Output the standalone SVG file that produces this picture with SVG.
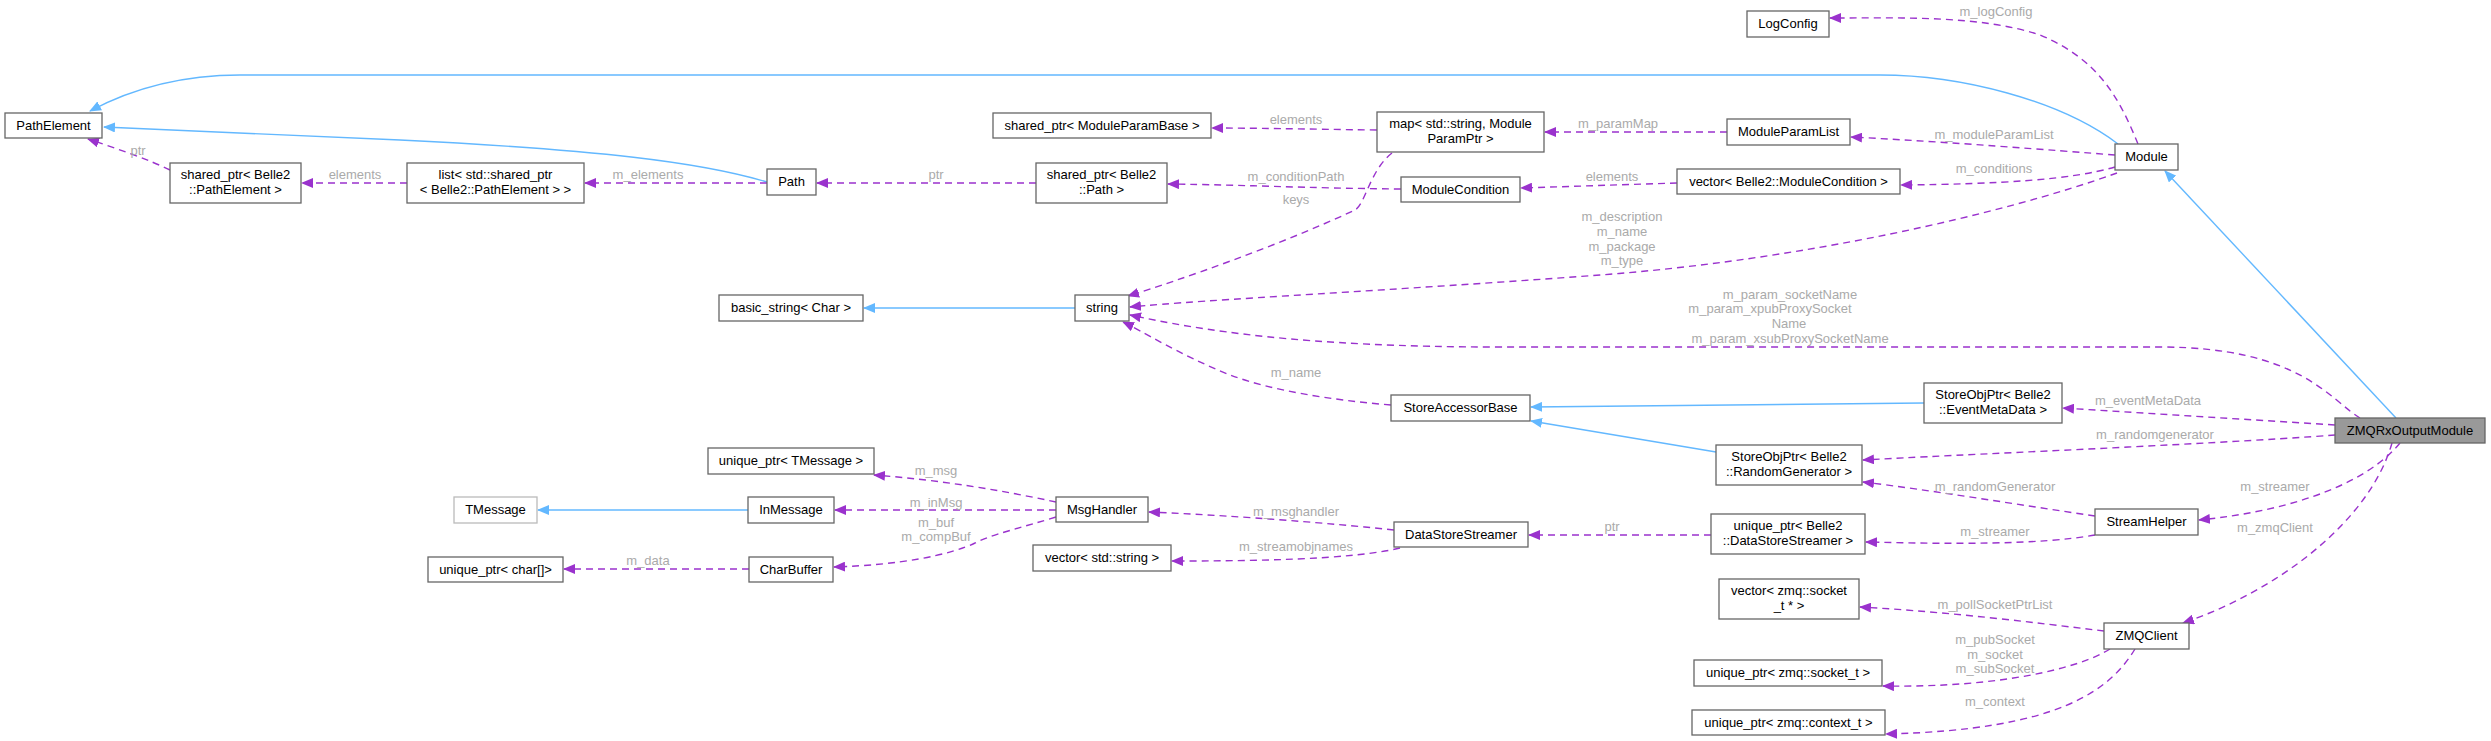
<svg xmlns="http://www.w3.org/2000/svg" width="2491" height="741" viewBox="0 0 2491 741">
<style>
.n rect{fill:#fff;stroke:#666;stroke-width:1.3}
.n text,.l{font-family:"Liberation Sans",Arial,sans-serif;font-size:13px;text-anchor:middle}
.n text{fill:#000}
.l{fill:#aaa}
.d{fill:none;stroke:#9a32cd;stroke-width:1.4;stroke-dasharray:7,5}
.b{fill:none;stroke:#63b8ff;stroke-width:1.4}
</style>
<defs>
<marker id="mp" markerWidth="12" markerHeight="10" refX="11" refY="5" orient="auto" markerUnits="userSpaceOnUse"><path d="M0,0L12,5L0,10z" fill="#9a32cd"/></marker>
<marker id="mb" markerWidth="12" markerHeight="10" refX="11" refY="5" orient="auto" markerUnits="userSpaceOnUse"><path d="M0,0L12,5L0,10z" fill="#63b8ff"/></marker>
</defs>
<g id="edges">
<path class="b" marker-end="url(#mb)" d="M2118,144 C2060,100 1960,75 1880,75 L240,75 C170,75 120,95 90,111"/>
<path class="b" marker-end="url(#mb)" d="M767,182 C700,162 600,150 400,140 L104,127"/>
<path class="d" marker-end="url(#mp)" d="M170,170 C150,160 115,148 88,139"/>
<text class="l" x="138" y="155">ptr</text>
<path class="d" marker-end="url(#mp)" d="M407,183 L302,183"/>
<text class="l" x="355" y="179">elements</text>
<path class="d" marker-end="url(#mp)" d="M767,183 L585,183"/>
<text class="l" x="648" y="179">m_elements</text>
<path class="d" marker-end="url(#mp)" d="M1036,183 L817,183"/>
<text class="l" x="936" y="179">ptr</text>
<path class="d" marker-end="url(#mp)" d="M1401,189 C1300,188 1250,185 1168,184"/>
<text class="l" x="1296" y="181">m_conditionPath</text>
<path class="d" marker-end="url(#mp)" d="M1377,130 C1300,129 1250,128 1212,128"/>
<text class="l" x="1296" y="124">elements</text>
<path class="d" marker-end="url(#mp)" d="M1392,153 C1370,170 1365,205 1355,210 C1280,245 1180,280 1128,296"/>
<text class="l" x="1296" y="204">keys</text>
<path class="d" marker-end="url(#mp)" d="M1727,132 L1545,132"/>
<text class="l" x="1618" y="128">m_paramMap</text>
<path class="d" marker-end="url(#mp)" d="M1677,183 L1521,188"/>
<text class="l" x="1612" y="181">elements</text>
<path class="d" marker-end="url(#mp)" d="M2138,144 C2120,100 2100,60 2040,35 C1980,15 1900,18 1830,18"/>
<text class="l" x="1996" y="16">m_logConfig</text>
<path class="d" marker-end="url(#mp)" d="M2115,155 C2050,150 1950,142 1851,137"/>
<text class="l" x="1994" y="139">m_moduleParamList</text>
<path class="d" marker-end="url(#mp)" d="M2115,167 C2070,180 2000,184 1901,185"/>
<text class="l" x="1994" y="173">m_conditions</text>
<path class="d" marker-end="url(#mp)" d="M2117,173 C2000,215 1800,260 1600,275 C1400,290 1200,300 1130,307"/>
<text class="l" x="1622" y="221">m_description</text>
<text class="l" x="1622" y="236">m_name</text>
<text class="l" x="1622" y="251">m_package</text>
<text class="l" x="1622" y="265">m_type</text>
<path class="d" marker-end="url(#mp)" d="M2360,418 C2330,400 2300,347 2160,347 L1500,347 C1300,347 1200,330 1130,315"/>
<text class="l" x="1790" y="299">m_param_socketName</text>
<text class="l" x="1770" y="313">m_param_xpubProxySocket</text>
<text class="l" x="1789" y="328">Name</text>
<text class="l" x="1790" y="343">m_param_xsubProxySocketName</text>
<path class="b" marker-end="url(#mb)" d="M2396,418 L2165,171"/>
<path class="d" marker-end="url(#mp)" d="M2335,425 L2063,408"/>
<text class="l" x="2148" y="405">m_eventMetaData</text>
<path class="d" marker-end="url(#mp)" d="M2335,435 C2200,445 1950,455 1863,460"/>
<text class="l" x="2155" y="439">m_randomgenerator</text>
<path class="d" marker-end="url(#mp)" d="M2400,443 C2370,480 2300,510 2199,520"/>
<text class="l" x="2275" y="491">m_streamer</text>
<path class="d" marker-end="url(#mp)" d="M2392,443 C2370,520 2280,590 2183,623"/>
<text class="l" x="2275" y="532">m_zmqClient</text>
<path class="d" marker-end="url(#mp)" d="M2095,516 C2020,505 1930,490 1863,482"/>
<text class="l" x="1995" y="491">m_randomGenerator</text>
<path class="d" marker-end="url(#mp)" d="M2095,535 C2040,545 1950,544 1866,542"/>
<text class="l" x="1995" y="536">m_streamer</text>
<path class="b" marker-end="url(#mb)" d="M1924,403 L1531,407"/>
<path class="b" marker-end="url(#mb)" d="M1716,452 L1531,421"/>
<path class="d" marker-end="url(#mp)" d="M1391,405 C1330,400 1270,390 1230,375 C1180,355 1140,330 1123,322"/>
<text class="l" x="1296" y="377">m_name</text>
<path class="d" marker-end="url(#mp)" d="M1711,535 L1529,535"/>
<text class="l" x="1612" y="531">ptr</text>
<path class="d" marker-end="url(#mp)" d="M1394,530 C1300,520 1200,514 1149,512"/>
<text class="l" x="1296" y="516">m_msghandler</text>
<path class="d" marker-end="url(#mp)" d="M1400,548 C1350,560 1250,561 1172,561"/>
<text class="l" x="1296" y="551">m_streamobjnames</text>
<path class="d" marker-end="url(#mp)" d="M1056,502 C1000,490 940,480 874,475"/>
<text class="l" x="936" y="475">m_msg</text>
<path class="d" marker-end="url(#mp)" d="M1056,510 L835,510"/>
<text class="l" x="936" y="507">m_inMsg</text>
<path class="d" marker-end="url(#mp)" d="M1056,517 C1020,528 990,535 975,543 C950,555 900,565 834,567"/>
<text class="l" x="936" y="527">m_buf</text>
<text class="l" x="936" y="541">m_compBuf</text>
<path class="b" marker-end="url(#mb)" d="M748,510 L538,510"/>
<path class="d" marker-end="url(#mp)" d="M749,569 L564,569"/>
<text class="l" x="648" y="565">m_data</text>
<path class="b" marker-end="url(#mb)" d="M1075,308 L864,308"/>
<path class="d" marker-end="url(#mp)" d="M2104,631 C2030,622 1950,612 1860,607"/>
<text class="l" x="1995" y="609">m_pollSocketPtrList</text>
<path class="d" marker-end="url(#mp)" d="M2110,649 C2080,668 2000,688 1883,686"/>
<text class="l" x="1995" y="644">m_pubSocket</text>
<text class="l" x="1995" y="659">m_socket</text>
<text class="l" x="1995" y="673">m_subSocket</text>
<path class="d" marker-end="url(#mp)" d="M2135,649 C2110,690 2060,730 1886,734"/>
<text class="l" x="1995" y="706">m_context</text>
</g>
<g id="PathElement" class="n"><rect x="5" y="113" width="97" height="25"/><text x="53.5" y="130">PathElement</text></g>
<g id="SharedPtrPathElement" class="n"><rect x="170" y="163" width="131" height="40"/><text x="235.5" y="179">shared_ptr&lt; Belle2</text><text x="235.5" y="194">::PathElement &gt;</text></g>
<g id="ListSharedPtr" class="n"><rect x="407" y="163" width="177" height="40"/><text x="495.5" y="179">list&lt; std::shared_ptr</text><text x="495.5" y="194">&lt; Belle2::PathElement &gt; &gt;</text></g>
<g id="Path" class="n"><rect x="767" y="169" width="49" height="26"/><text x="791.5" y="186">Path</text></g>
<g id="BasicString" class="n"><rect x="719" y="295" width="144" height="26"/><text x="791" y="312">basic_string&lt; Char &gt;</text></g>
<g id="SharedPtrModuleParamBase" class="n"><rect x="993" y="113" width="218" height="25"/><text x="1102" y="130">shared_ptr&lt; ModuleParamBase &gt;</text></g>
<g id="Map" class="n"><rect x="1377" y="112" width="167" height="40"/><text x="1460.5" y="128">map&lt; std::string, Module</text><text x="1460.5" y="143">ParamPtr &gt;</text></g>
<g id="SharedPtrPath" class="n"><rect x="1036" y="163" width="131" height="40"/><text x="1101.5" y="179">shared_ptr&lt; Belle2</text><text x="1101.5" y="194">::Path &gt;</text></g>
<g id="ModuleCondition" class="n"><rect x="1401" y="177" width="119" height="25"/><text x="1460.5" y="194">ModuleCondition</text></g>
<g id="String" class="n"><rect x="1075" y="295" width="54" height="26"/><text x="1102" y="312">string</text></g>
<g id="LogConfig" class="n"><rect x="1747" y="11" width="82" height="26"/><text x="1788" y="28">LogConfig</text></g>
<g id="ModuleParamList" class="n"><rect x="1727" y="119" width="123" height="26"/><text x="1788.5" y="136">ModuleParamList</text></g>
<g id="VectorModuleCondition" class="n"><rect x="1677" y="169" width="223" height="25"/><text x="1788.5" y="186">vector&lt; Belle2::ModuleCondition &gt;</text></g>
<g id="Module" class="n"><rect x="2115" y="144" width="63" height="26"/><text x="2146.5" y="161">Module</text></g>
<g id="UniquePtrTMessage" class="n"><rect x="708" y="448" width="166" height="26"/><text x="791" y="465">unique_ptr&lt; TMessage &gt;</text></g>
<g id="TMessage" class="n"><rect x="454" y="497" width="83" height="26" style="stroke:#bbb"/><text x="495.5" y="514">TMessage</text></g>
<g id="InMessage" class="n"><rect x="748" y="497" width="86" height="26"/><text x="791" y="514">InMessage</text></g>
<g id="UniquePtrChar" class="n"><rect x="428" y="557" width="135" height="25"/><text x="495.5" y="574">unique_ptr&lt; char[]&gt;</text></g>
<g id="CharBuffer" class="n"><rect x="749" y="557" width="84" height="25"/><text x="791" y="574">CharBuffer</text></g>
<g id="StoreAccessorBase" class="n"><rect x="1391" y="395" width="139" height="26"/><text x="1460.5" y="412">StoreAccessorBase</text></g>
<g id="MsgHandler" class="n"><rect x="1056" y="497" width="92" height="25"/><text x="1102" y="514">MsgHandler</text></g>
<g id="DataStoreStreamer" class="n"><rect x="1394" y="522" width="134" height="25"/><text x="1461" y="539">DataStoreStreamer</text></g>
<g id="VectorString" class="n"><rect x="1033" y="545" width="138" height="26"/><text x="1102" y="562">vector&lt; std::string &gt;</text></g>
<g id="StoreObjPtrEventMetaData" class="n"><rect x="1924" y="383" width="138" height="40"/><text x="1993" y="399">StoreObjPtr&lt; Belle2</text><text x="1993" y="414">::EventMetaData &gt;</text></g>
<g id="ZMQRxOutputModule" class="n"><rect x="2335" y="418" width="150" height="25" style="fill:#999"/><text x="2410" y="435">ZMQRxOutputModule</text></g>
<g id="StoreObjPtrRandomGenerator" class="n"><rect x="1716" y="445" width="146" height="40"/><text x="1789" y="461">StoreObjPtr&lt; Belle2</text><text x="1789" y="476">::RandomGenerator &gt;</text></g>
<g id="StreamHelper" class="n"><rect x="2095" y="509" width="103" height="26"/><text x="2146.5" y="526">StreamHelper</text></g>
<g id="UniquePtrDataStoreStreamer" class="n"><rect x="1711" y="514" width="154" height="40"/><text x="1788" y="530">unique_ptr&lt; Belle2</text><text x="1788" y="545">::DataStoreStreamer &gt;</text></g>
<g id="VectorSocket" class="n"><rect x="1719" y="579" width="140" height="40"/><text x="1789" y="595">vector&lt; zmq::socket</text><text x="1789" y="610">_t * &gt;</text></g>
<g id="ZMQClient" class="n"><rect x="2104" y="623" width="85" height="26"/><text x="2146.5" y="640">ZMQClient</text></g>
<g id="UniquePtrSocket" class="n"><rect x="1694" y="660" width="188" height="26"/><text x="1788" y="677">unique_ptr&lt; zmq::socket_t &gt;</text></g>
<g id="UniquePtrContext" class="n"><rect x="1692" y="710" width="193" height="25"/><text x="1788.5" y="727">unique_ptr&lt; zmq::context_t &gt;</text></g>
</svg>
